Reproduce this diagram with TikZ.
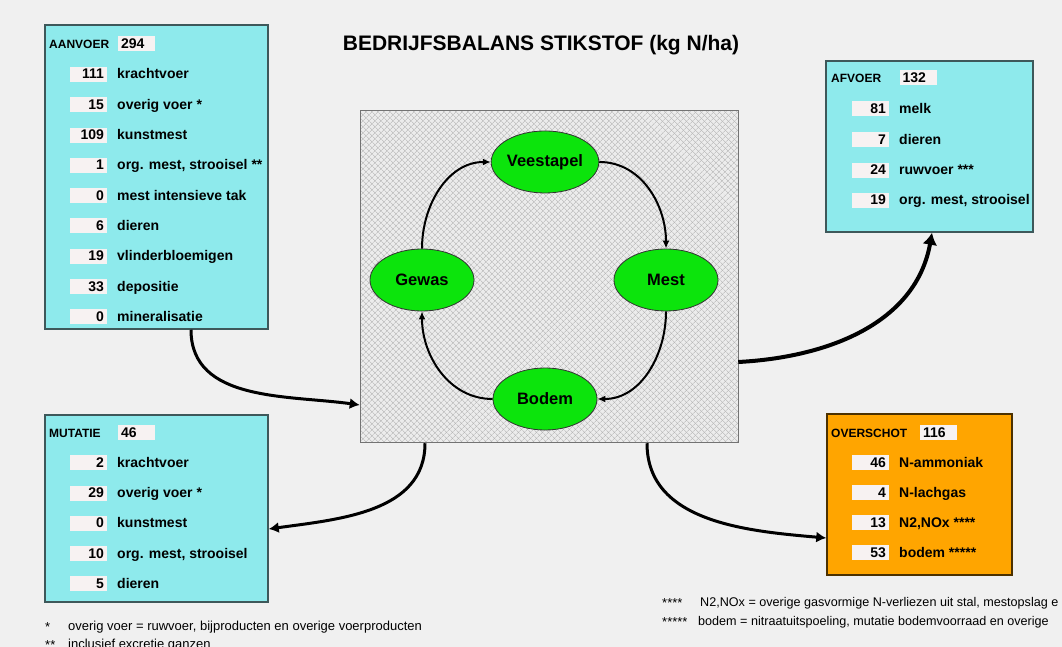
\documentclass[tikz,border=0pt]{standalone}
\usepackage{fontspec}
\setmainfont{Liberation Sans}
\usetikzlibrary{shapes.geometric,fit,arrows.meta,patterns.meta}
\definecolor{grijs}{RGB}{240,240,240}
\definecolor{turkoois}{RGB}{142,234,236}
\definecolor{oranje}{RGB}{255,165,0}
\definecolor{groen}{RGB}{12,228,12}
\definecolor{rand}{RGB}{62,88,90}
\definecolor{wit}{RGB}{247,242,242}
\definecolor{arceergrond}{RGB}{236,236,236}
\definecolor{arcering}{RGB}{178,178,178}

\begin{document}
\begin{tikzpicture}[x=1pt,y=1pt,
  blok/.style={draw=rand,line width=1.5pt,fill=turkoois,inner sep=0pt},
  getal/.style={fill=wit,inner xsep=3pt,inner ysep=0pt,minimum height=15pt,text width=31pt,
    text height=10.5pt,text depth=1.5pt,align=right,font=\fontsize{14}{14}\selectfont\bfseries},
  totaal/.style={getal,align=left},
  kop/.style={anchor=west,inner sep=0pt,text height=10.5pt,text depth=1.5pt,font=\fontsize{12}{12}\selectfont\bfseries},
  post/.style={anchor=west,inner sep=0pt,text height=10.5pt,text depth=1.5pt,font=\fontsize{14}{14}\selectfont\bfseries},
  kring/.style={ellipse,draw=black!80,line width=0.8pt,fill=groen,minimum width=104pt,minimum height=62pt,
    inner sep=0pt,font=\fontsize{16.5}{16.5}\selectfont\bfseries},
  pijl/.style={line width=2pt,-{Latex[length=8pt,width=7pt]}},
  stroom/.style={line width=3pt,-{Latex[length=10pt,width=11pt]}},
  voet/.style={anchor=west,inner sep=0pt,font=\fontsize{13}{13}\selectfont}]
\useasboundingbox (0,0) rectangle (1062,647);
\clip (0,0) rectangle (1062,647);
\fill[grijs] (0,0) rectangle (1062,647);
\node[font=\fontsize{21}{21}\selectfont\bfseries] (titel) at (541,602) {BEDRIJFSBALANS STIKSTOF (kg N/ha)};
%.............................
\node[blok,fit={(45,318) (268,622)}] (aanvoer) {};
\node[kop] (ak) at (49,603) {AANVOER};
\node[totaal] (at) at (136.5,603) {294};
\node[getal] (a1) at (88.5,572.5) {111}; \node[post] (a1t) at (117,572.5) {krachtvoer};
\node[getal] (a2) at (88.5,542.2) {15};  \node[post] (a2t) at (117,542.2) {overig voer *};
\node[getal] (a3) at (88.5,511.9) {109}; \node[post] (a3t) at (117,511.9) {kunstmest};
\node[getal] (a4) at (88.5,481.6) {1};   \node[post] (a4t) at (117,481.6) {org. mest, strooisel **};
\node[getal] (a5) at (88.5,451.3) {0};   \node[post] (a5t) at (117,451.3) {mest intensieve tak};
\node[getal] (a6) at (88.5,421.0) {6};   \node[post] (a6t) at (117,421.0) {dieren};
\node[getal] (a7) at (88.5,390.7) {19};  \node[post] (a7t) at (117,390.7) {vlinderbloemigen};
\node[getal] (a8) at (88.5,360.4) {33};  \node[post] (a8t) at (117,360.4) {depositie};
\node[getal] (a9) at (88.5,330.1) {0};   \node[post] (a9t) at (117,330.1) {mineralisatie};
%.............................
\node[blok,fit={(826,415) (1033,586)}] (afvoer) {};
\node[kop] (fk) at (831,569) {AFVOER};
\node[totaal] (ft) at (918,569) {132};
\node[getal] (f1) at (870.5,538.0) {81}; \node[post] (f1t) at (899,538.0) {melk};
\node[getal] (f2) at (870.5,507.0) {7};  \node[post] (f2t) at (899,507.0) {dieren};
\node[getal] (f3) at (870.5,476.5) {24}; \node[post] (f3t) at (899,476.5) {ruwvoer ***};
\node[getal] (f4) at (870.5,446.5) {19}; \node[post] (f4t) at (899,446.5) {org. mest, strooisel};
%.............................
\node[blok,fit={(45,45) (268,232)}] (mutatie) {};
\node[kop] (mk) at (49,214) {MUTATIE};
\node[totaal] (mt) at (136.5,214) {46};
\node[getal] (m1) at (88.5,184.3) {2};  \node[post] (m1t) at (117,184.3) {krachtvoer};
\node[getal] (m2) at (88.5,153.7) {29}; \node[post] (m2t) at (117,153.7) {overig voer *};
\node[getal] (m3) at (88.5,123.7) {0};  \node[post] (m3t) at (117,123.7) {kunstmest};
\node[getal] (m4) at (88.5,93.0) {10};  \node[post] (m4t) at (117,93.0) {org. mest, strooisel};
\node[getal] (m5) at (88.5,63.0) {5};   \node[post] (m5t) at (117,63.0) {dieren};
%.............................
\node[blok,fill=oranje,draw=black!70!oranje,fit={(827,72) (1012,233)}] (overschot) {};
\node[kop] (ok) at (831,214) {OVERSCHOT};
\node[totaal] (ot) at (938.5,214) {116};
\node[getal] (o1) at (870.5,184) {46}; \node[post] (o1t) at (899,184) {N-ammoniak};
\node[getal] (o2) at (870.5,154) {4};  \node[post] (o2t) at (899,154) {N-lachgas};
\node[getal] (o3) at (870.5,124) {13}; \node[post] (o3t) at (899,124) {N2,NOx ****};
\node[getal] (o4) at (870.5,94) {53};  \node[post] (o4t) at (899,94) {bodem *****};
%.............................
\node[fit={(360,204) (738,536)},inner sep=0pt,draw=black!55,line width=1pt,
  preaction={fill=arceergrond},
  preaction={pattern={Lines[angle=45,distance=4pt,line width=0.5pt]},pattern color=arcering},
  pattern={Lines[angle=-45,distance=4pt,line width=0.5pt]},pattern color=arcering] (bedrijf) {};
\node[kring] (veestapel) at (545,485) {Veestapel};
\node[kring] (gewas) at (422,367) {Gewas};
\node[kring] (mest) at (666,367) {Mest};
\node[kring] (bodem) at (545,248) {Bodem};
\draw[pijl] (veestapel.east) to[out=0,in=90] (mest.north);
\draw[pijl] (mest.south) to[out=-90,in=0] (bodem.east);
\draw[pijl] (bodem.west) to[out=180,in=-90] (gewas.south);
\draw[pijl] (gewas.north) to[out=90,in=180] (veestapel.west);
%.............................
\draw[stroom] ([xshift=34.5pt]aanvoer.south) to[out=-90,in=172] ([yshift=-128pt]bedrijf.west);
\draw[stroom,line width=4pt,-{Latex[length=12pt,width=15pt]}] ([yshift=-85pt]bedrijf.east) to[out=3,in=-100] ([xshift=2.5pt]afvoer.south);
\draw[stroom] ([xshift=-124pt]bedrijf.south) to[out=-90,in=8] ([yshift=-20.5pt]mutatie.east);
\draw[stroom] ([xshift=98pt]bedrijf.south) to[out=-90,in=175] ([yshift=-43.5pt]overschot.west);
%.............................
\node[voet] (v1) at (45,20.3) {*};
\node[voet] (v1t) at (68,20.3) {overig voer = ruwvoer, bijproducten en overige voerproducten};
\node[voet] (v2) at (45,2) {**};
\node[voet] (v2t) at (68,2) {inclusief excretie ganzen};
\node[voet] (v4) at (662,44) {****};
\node[voet,font=\fontsize{12.6}{12.6}\selectfont] (v4t) at (700,44) {N2,NOx = overige gasvormige N-verliezen uit stal, mestopslag e};
\node[voet] (v5) at (662,24.5) {*****};
\node[voet,font=\fontsize{12.6}{12.6}\selectfont] (v5t) at (698,24.5) {bodem = nitraatuitspoeling, mutatie bodemvoorraad en overige};
\end{tikzpicture}
\end{document}
